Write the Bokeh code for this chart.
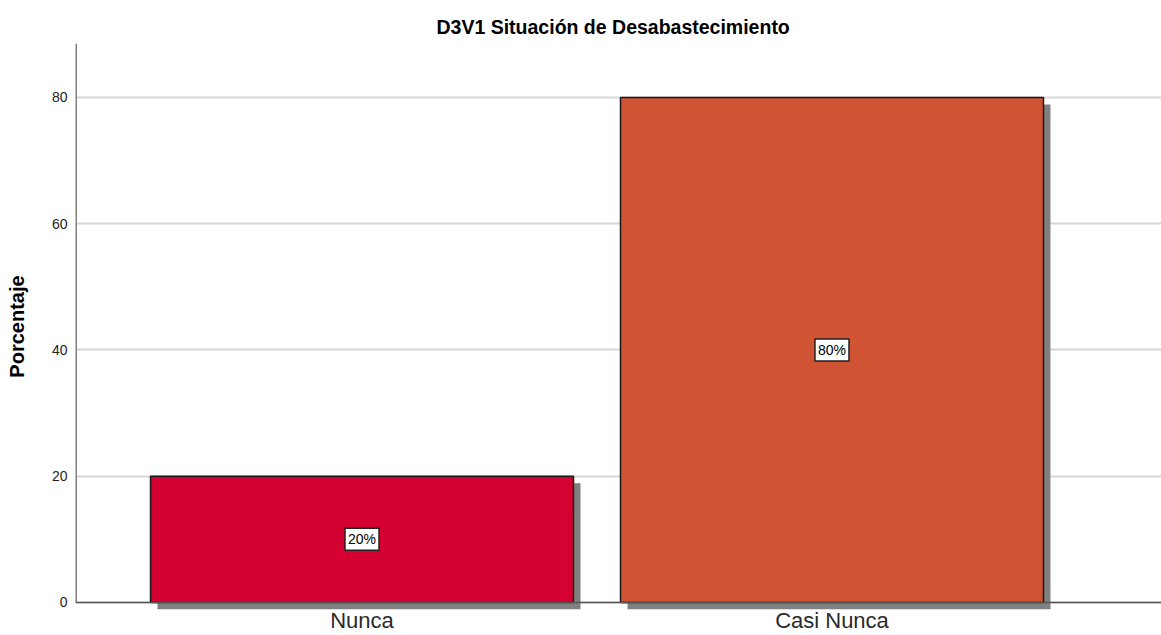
from bokeh.plotting import figure
from bokeh.models import Range1d, FixedTicker, Span, ColumnDataSource
from bokeh.embed import file_html
from bokeh.resources import INLINE
from bokeh.core.properties import value

# ---- data ----
categories = ["Nunca", "Casi Nunca"]
percentages = [20, 80]
bar_labels = ["20%", "80%"]
bar_colors = ["#D50032", "#D05334"]
y_ticks = [0, 20, 40, 60, 80]
title_text = "D3V1 Situación de Desabastecimiento"
y_title = "Porcentaje"

# ---- layout constants ----
FONT = "Liberation Sans"
BAR_W = 0.9
DX = 0.0149   # shadow offset (x, ~7px)
DY = 1.109    # shadow offset (y, ~7px)
X0, X1 = 0.3904, 2.7011
Y0, Y1 = -1.109, 88.55

xs = [i + 1 for i in range(len(categories))]

src = ColumnDataSource(dict(
    x=xs,
    top=percentages,
    color=bar_colors,
    label=bar_labels,
    mid=[v / 2 for v in percentages],
    sl=[x - BAR_W / 2 + DX for x in xs],
    sr=[x + BAR_W / 2 + DX for x in xs],
    st=[v - DY for v in percentages],
    sb=[-DY for _ in xs],
))

p = figure(width=1161, height=635, output_backend="svg", toolbar_location=None,
           x_range=Range1d(X0, X1), y_range=Range1d(Y0, Y1),
           title=title_text,
           min_border_left=75, min_border_right=0, min_border_top=43, min_border_bottom=0)

p.background_fill_color = "white"
p.border_fill_color = "white"
p.outline_line_color = None

p.title.align = "left"
p.title.offset = 361
p.title.text_font = FONT
p.title.text_font_size = "19.5px"
p.title.text_font_style = "bold"
p.title.text_color = "#000000"
p.title.standoff = 11

# grid
p.xgrid.visible = False
p.ygrid.ticker = FixedTicker(ticks=y_ticks)
p.ygrid.grid_line_color = "#d6d6d6"
p.ygrid.grid_line_width = 2

# shadows
p.quad(left="sl", right="sr", top="st", bottom="sb", source=src,
       fill_color="#808080", line_color=None)
# bars
p.vbar(x="x", top="top", width=BAR_W, source=src, fill_color="color",
       line_color="#1a1a1a", line_width=1.5)

# value labels
p.text(x="x", y="mid", text="label", source=src, anchor="center",
       text_font=value(FONT), text_font_size="14px", text_color="#000000",
       background_fill_color="white", border_line_color="#222222",
       border_line_width=1.5, padding=3)

# axis lines
p.add_layout(Span(location=0, dimension="width", line_color="#555555", line_width=1.5))
p.segment(x0=[X0], y0=[0], x1=[X0], y1=[Y1], line_color="#808080", line_width=3)

# y axis
ya = p.yaxis[0]
ya.ticker = FixedTicker(ticks=y_ticks)
ya.axis_line_color = None
ya.major_tick_line_color = None
ya.minor_tick_line_color = None
ya.major_tick_out = 0
ya.major_tick_in = 0
ya.major_label_text_font = FONT
ya.major_label_text_font_size = "14px"
ya.major_label_text_color = "#222222"
ya.major_label_standoff = 8
ya.axis_label = y_title
ya.axis_label_text_font = FONT
ya.axis_label_text_font_size = "20px"
ya.axis_label_text_font_style = "bold"
ya.axis_label_text_color = "#000000"
ya.axis_label_standoff = 21

# x axis
xa = p.xaxis[0]
xa.ticker = FixedTicker(ticks=xs)
xa.major_label_overrides = {x: c for x, c in zip(xs, categories)}
xa.axis_line_color = None
xa.major_tick_line_color = None
xa.minor_tick_line_color = None
xa.major_tick_out = 0
xa.major_tick_in = 0
xa.major_label_text_font = FONT
xa.major_label_text_font_size = "22px"
xa.major_label_text_color = "#2a2a2a"
xa.major_label_standoff = -2

open("out.html", "w").write(file_html(p, INLINE))
